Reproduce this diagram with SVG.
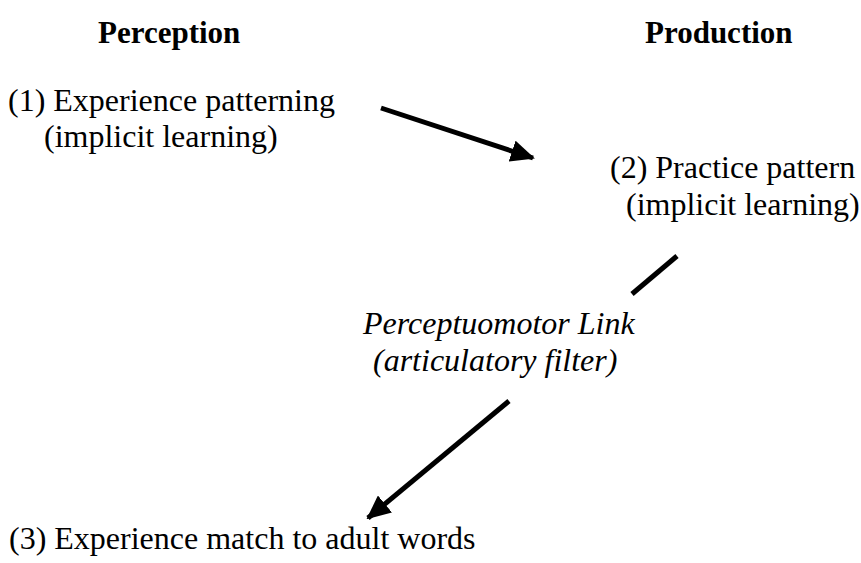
<svg xmlns="http://www.w3.org/2000/svg" width="861" height="563" viewBox="0 0 861 563">
<defs>
<style>
text{font-family:"Liberation Serif","Times New Roman",serif;fill:#000;font-size:32px}
.h{font-weight:bold;font-size:31px}
.i{font-style:italic}
.c{stroke:#000;stroke-width:5;fill:none}
</style>
<marker id="ah" markerUnits="userSpaceOnUse" markerWidth="24" markerHeight="22" refX="22" refY="11" orient="auto" viewBox="0 0 24 22">
<path d="M0,0 L24,11 L0,22 Z" fill="#000"/>
</marker>
</defs>
<rect width="861" height="563" fill="#fff"/>
<g id="hdr-perception"><text class="h" x="98" y="43">Perception</text></g>
<g id="hdr-production"><text class="h" x="645" y="43">Production</text></g>
<g id="node1">
<text x="8" y="111">(1) Experience patterning</text>
<text x="44" y="147">(implicit learning)</text>
</g>
<g id="node2">
<text x="610" y="178">(2) Practice pattern</text>
<text x="626" y="215">(implicit learning)</text>
</g>
<g id="link">
<text class="i" x="363" y="334">Perceptuomotor Link</text>
<text class="i" x="373" y="371">(articulatory filter)</text>
</g>
<g id="node3">
<text x="9" y="549">(3) Experience match to adult words</text>
</g>
<g id="connectors">
<line class="c" x1="381" y1="108" x2="533" y2="158" marker-end="url(#ah)"/>
<line class="c" x1="677" y1="256" x2="632" y2="294"/>
<line class="c" x1="509" y1="401" x2="368" y2="518" marker-end="url(#ah)"/>
</g>
</svg>
